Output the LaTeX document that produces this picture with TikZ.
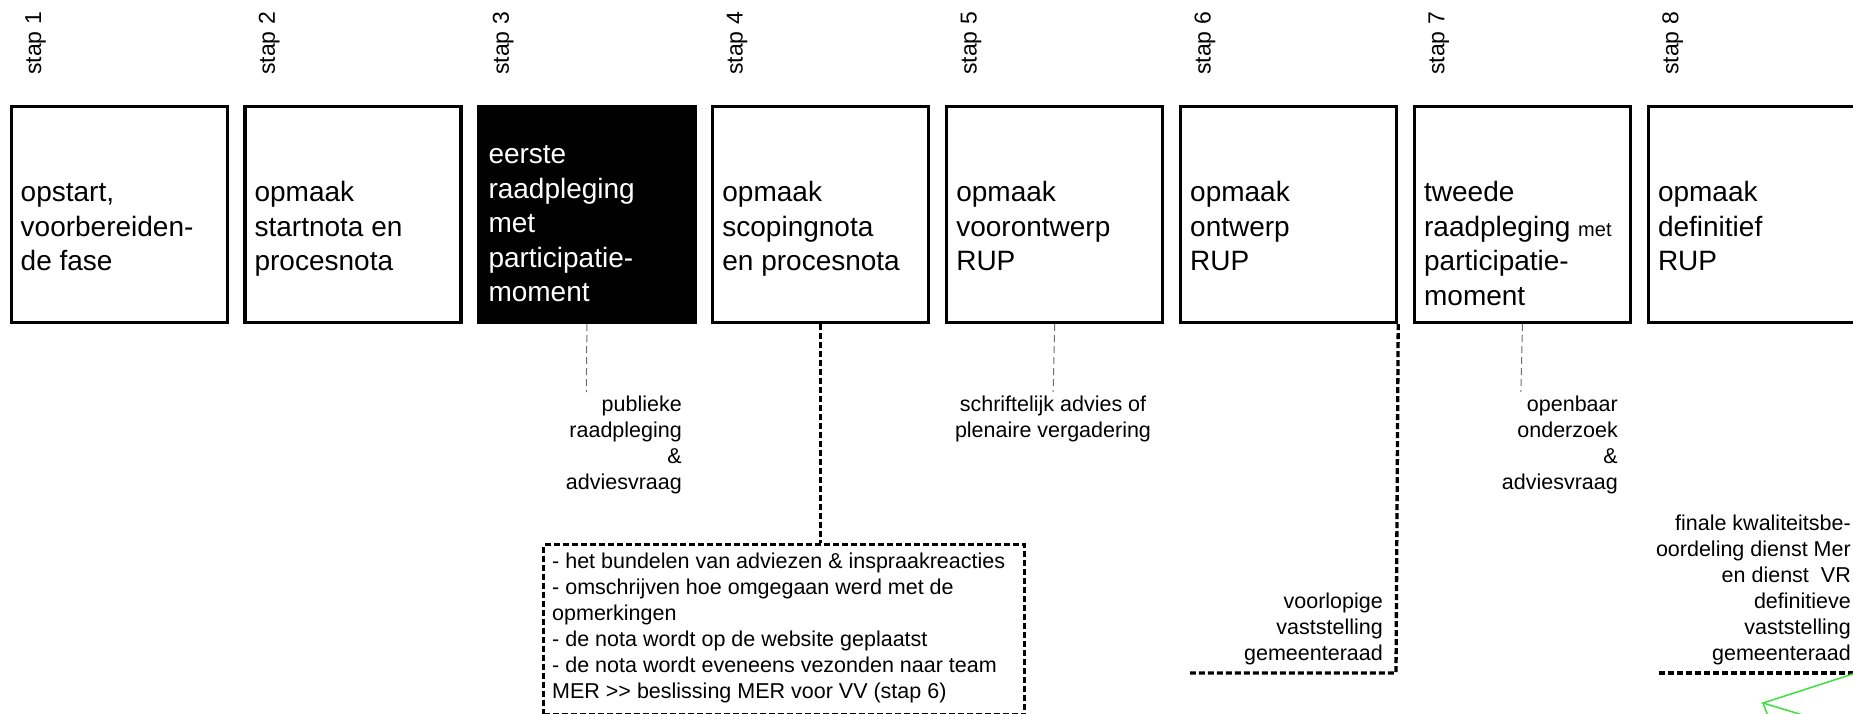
\documentclass[tikz,border=0pt]{standalone}
\usepackage{fontspec}
\setmainfont{Liberation Sans}
\definecolor{lgreen}{RGB}{60,225,60}
\definecolor{thingray}{RGB}{110,110,110}
\newcommand{\ltab}[1]{\begin{tabular}[t]{@{}l@{}}#1\end{tabular}}
\newcommand{\rtab}[1]{\begin{tabular}[t]{@{}r@{}}#1\end{tabular}}
\newcommand{\ctab}[1]{\begin{tabular}[t]{@{}c@{}}#1\end{tabular}}
\tikzset{
  stepbox/.style={draw=black, line width=3.2pt, minimum width=216pt, minimum height=216pt, inner sep=0pt, anchor=north west},
  steplabel/.style={rotate=90, anchor=base west, inner sep=0pt, font=\fontsize{23}{27}\selectfont},
  boxtext/.style={anchor=base west, inner sep=0pt, font=\fontsize{28}{34.5}\selectfont},
  note/.style={inner sep=0pt, font=\fontsize{21.5}{26}\selectfont},
  thinlink/.style={draw=thingray, line width=1pt, dash pattern=on 7pt off 4pt},
  heavylink/.style={draw=black, line width=3.3pt, dash pattern=on 6pt off 3pt},
  greenline/.style={draw=lgreen, line width=1.5pt}
}
\begin{document}
\begin{tikzpicture}[x=1pt,y=-1pt]
\useasboundingbox (0,0) rectangle (1853,714);
\clip (0,0) rectangle (1853,714);

% step labels
\node[steplabel] (l1) at (41,75) {stap 1};
\node[steplabel] (l2) at (274.9,75) {stap 2};
\node[steplabel] (l3) at (508.8,75) {stap 3};
\node[steplabel] (l4) at (742.7,75) {stap 4};
\node[steplabel] (l5) at (976.6,75) {stap 5};
\node[steplabel] (l6) at (1210.5,75) {stap 6};
\node[steplabel] (l7) at (1444.4,75) {stap 7};
\node[steplabel] (l8) at (1678.3,75) {stap 8};

% boxes
\node[stepbox] (b1) at (9.5,105) {};
\node[stepbox] (b2) at (243.4,105) {};
\node[stepbox, fill=black] (b3) at (477.3,105) {};
\node[stepbox] (b4) at (711.2,105) {};
\node[stepbox] (b5) at (945.1,105) {};
\node[stepbox] (b6) at (1179,105) {};
\node[stepbox] (b7) at (1412.9,105) {};
\node[stepbox] (b8) at (1646.8,105) {};

% box texts
\node[boxtext] (t1) at (20.5,202) {\ltab{opstart,\\voorbereiden-\\de fase}};
\node[boxtext] (t2) at (254.4,202) {\ltab{opmaak\\startnota en\\procesnota}};
\node[boxtext, text=white] (t3) at (488.3,164) {\ltab{eerste\\raadpleging\\met\\participatie-\\moment}};
\node[boxtext] (t4) at (722.2,202) {\ltab{opmaak\\scopingnota\\en procesnota}};
\node[boxtext] (t5) at (956.1,202) {\ltab{opmaak\\voorontwerp\\RUP}};
\node[boxtext] (t6) at (1190,202) {\ltab{opmaak\\ontwerp\\RUP}};
\node[boxtext] (t7) at (1423.9,202) {\ltab{tweede\\raadpleging {\fontsize{20}{34.5}\selectfont met}\\participatie-\\moment}};
\node[boxtext] (t8) at (1657.8,202) {\ltab{opmaak\\definitief\\RUP}};

% annotations
\node[note, anchor=base east] (a3) at (682,411) {\rtab{publieke\\raadpleging\\\&\\adviesvraag}};
\node[note, anchor=base] (a5) at (1053,411) {\ctab{schriftelijk advies of\\plenaire vergadering}};
\node[note, anchor=base east] (a6) at (1383,608) {\rtab{voorlopige\\vaststelling\\gemeenteraad}};
\node[note, anchor=base east] (a7) at (1618,411) {\rtab{openbaar\\onderzoek\\\&\\adviesvraag}};
\node[note, anchor=base east] (a8) at (1851,530) {\rtab{finale kwaliteitsbe-\\oordeling dienst Mer\\en dienst\ \ VR\\definitieve\\vaststelling\\gemeenteraad}};

% dashed box of step 4
\node[heavylink, anchor=north west, minimum width=481pt, minimum height=170pt, inner sep=0pt] (db) at (542,543) {};
\node[note, anchor=base west] (dt) at (552,568) {\ltab{- het bundelen van adviezen \& inspraakreacties\\- omschrijven hoe omgegaan werd met de\\opmerkingen\\- de nota wordt op de website geplaatst\\- de nota wordt eveneens vezonden naar team\\MER {>}{>} beslissing MER voor VV (stap 6)}};

% connectors
\coordinate (e3) at (586.3,392);
\coordinate (e5) at (1053.1,392);
\coordinate (e7) at (1520.9,392);
\coordinate (k6) at (1396,673);
\coordinate (e6) at (1190,673);
\coordinate (s8) at (1659,673);
\coordinate (e8) at (1870,673);

\draw[thinlink] (b3.south) -- (e3);
\draw[thinlink] (b5.south) -- (e5);
\draw[thinlink] (b7.south) -- (e7);
\draw[heavylink] (b4.south) -- (b4.south |- db.north);
\draw[heavylink] (b6.south east) -- (k6) -- (e6);
\draw[heavylink] (s8) -- (e8);

% green marks
\coordinate (g1) at (1856,673);
\coordinate (g2) at (1763,703);
\coordinate (g3) at (1806,716);
\coordinate (g4) at (1768,716);
\draw[greenline] (g1) -- (g2) -- (g3);
\draw[greenline] (g2) -- (g4);
\end{tikzpicture}
\end{document}
